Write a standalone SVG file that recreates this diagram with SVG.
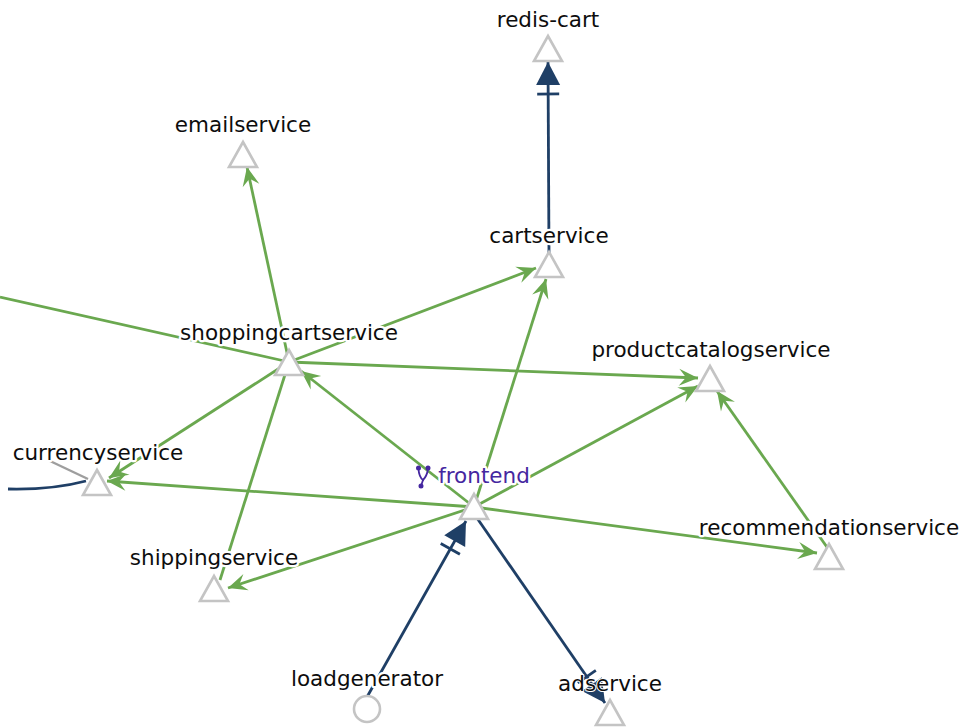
<svg xmlns="http://www.w3.org/2000/svg" width="963" height="727" viewBox="0 0 963 727">
  <style>
    .bg { fill: #ffffff; }
    .e-green { stroke: #6aa84f; stroke-width: 2.8; fill: none; marker-end: url(#arrow-green); }
    .e-plain { stroke: #6aa84f; stroke-width: 2.8; fill: none; }
    .e-blue { stroke: #1f3f66; stroke-width: 2.8; fill: none; marker-end: url(#arrow-blue); }
    .e-blue-plain { stroke: #1f3f66; stroke-width: 2.8; fill: none; }
    .e-gray { stroke: #9e9e9e; stroke-width: 2.4; fill: none; }
    .shape { fill: #ffffff; stroke: #c4c4c4; stroke-width: 2.6; }
    .label { font-family: "DejaVu Sans", Verdana, sans-serif; font-size: 21.5px; fill: #0d0d0d; text-anchor: middle;
             stroke: #ffffff; stroke-width: 4.5; stroke-linejoin: round; paint-order: stroke; }
    .label.thin { stroke-width: 2; }
    .label.active { fill: #4527a0; }
  </style>
  <defs>
    <marker id="arrow-green" markerUnits="userSpaceOnUse" markerWidth="24" markerHeight="24" refX="0" refY="0" orient="auto" overflow="visible">
      <path d="M0,0 L-19,-8.5 L-12,0 L-19,8.5 Z" fill="#6aa84f"/>
    </marker>
    <marker id="arrow-blue" markerUnits="userSpaceOnUse" markerWidth="40" markerHeight="30" refX="0" refY="0" orient="auto" overflow="visible">
      <path d="M0,0 L-23,-12 L-23,12 Z" fill="#1f3f66"/>
      <path d="M-32,-11 L-32,11" stroke="#1f3f66" stroke-width="2.8"/>
    </marker>
    <path id="tri" d="M0,-13 L14,12 L-14,12 Z"/>
  </defs>

  <rect class="bg" x="0" y="0" width="963" height="727"/>

  <g id="connectors">
    <path class="e-plain" d="M0,297 L289,362"/>
    <path class="e-plain" d="M220,580 L289,362"/>
    <path class="e-green" d="M289,362 L247,167"/>
    <path class="e-green" d="M289,362 L536,268"/>
    <path class="e-green" d="M289,362 L698,378"/>
    <path class="e-green" d="M289,362 L109,478"/>
    <path class="e-green" d="M474,507 L301,371"/>
    <path class="e-green" d="M474,507 L546,279"/>
    <path class="e-green" d="M474,507 L698,386"/>
    <path class="e-green" d="M474,507 L107,481"/>
    <path class="e-green" d="M474,507 L228,588"/>
    <path class="e-green" d="M474,507 L817,553"/>
    <path class="e-green" d="M829,550 L717,391"/>
    <path class="e-blue" d="M549,256 L548,62"/>
    <path class="e-blue" d="M367,697 L466,521"/>
    <path class="e-blue" d="M477,518 L605,703"/>
    <path class="e-blue-plain" d="M8,489 Q52,490 86,481"/>
    <path class="e-gray" d="M50,461 L88,479"/>
  </g>

  <g id="node-redis-cart">
    <use href="#tri" class="shape" x="548" y="49"/>
    <text class="label" x="548" y="27">redis-cart</text>
  </g>
  <g id="node-emailservice">
    <use href="#tri" class="shape" x="243" y="155"/>
    <text class="label" x="243" y="132">emailservice</text>
  </g>
  <g id="node-cartservice">
    <use href="#tri" class="shape" x="549" y="265"/>
    <text class="label" x="549" y="243">cartservice</text>
  </g>
  <g id="node-shoppingcartservice">
    <use href="#tri" class="shape" x="289" y="363"/>
    <text class="label" x="289" y="340">shoppingcartservice</text>
  </g>
  <g id="node-productcatalogservice">
    <use href="#tri" class="shape" x="710" y="379"/>
    <text class="label" x="711" y="357">productcatalogservice</text>
  </g>
  <g id="node-currencyservice">
    <use href="#tri" class="shape" x="97" y="483"/>
    <text class="label" x="98" y="460">currencyservice</text>
  </g>
  <g id="node-frontend">
    <use href="#tri" class="shape" x="474" y="507"/>
    <text class="label active" x="484" y="483">frontend</text>
    <g fill="none" stroke="#4527a0" stroke-width="1.8" stroke-linecap="round">
      <path d="M418.5,469 Q419,477 423,480 L421,486"/>
      <path d="M428,469 Q427,476 423,480"/>
      <circle cx="418.5" cy="468" r="1.6" fill="#4527a0"/>
      <circle cx="428" cy="468" r="1.6" fill="#4527a0"/>
      <circle cx="421" cy="486" r="1.6" fill="#4527a0"/>
    </g>
  </g>
  <g id="node-recommendationservice">
    <use href="#tri" class="shape" x="829" y="557"/>
    <text class="label" x="829" y="535">recommendationservice</text>
  </g>
  <g id="node-shippingservice">
    <use href="#tri" class="shape" x="214" y="589"/>
    <text class="label" x="214" y="565">shippingservice</text>
  </g>
  <g id="node-loadgenerator">
    <circle class="shape" cx="367" cy="709" r="13"/>
    <text class="label" x="367" y="686">loadgenerator</text>
  </g>
  <g id="node-adservice">
    <use href="#tri" class="shape" x="610" y="713"/>
    <text class="label thin" x="610" y="691">adservice</text>
  </g>
</svg>
